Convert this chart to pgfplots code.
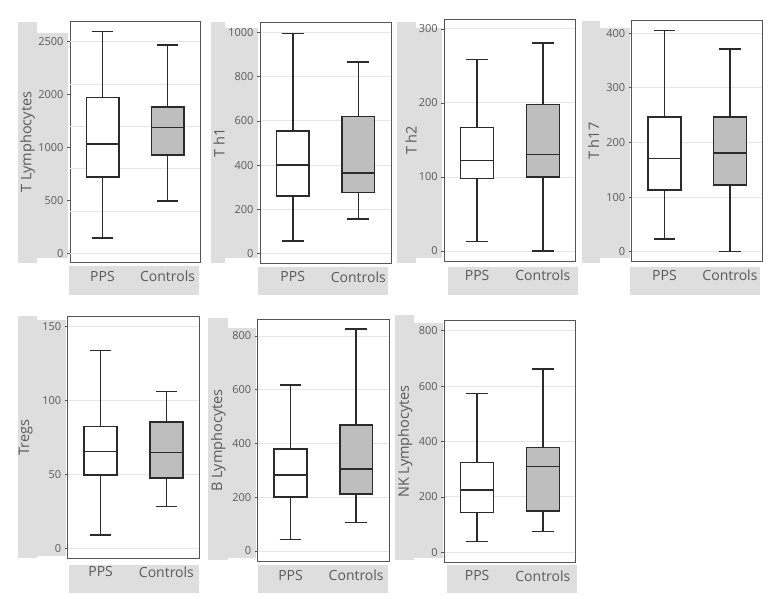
\documentclass[border=0pt]{standalone}
\usepackage{fontspec}
\setmainfont{Open Sans}
\usepackage{pgfplots}
\pgfplotsset{compat=1.18}
\usepgfplotslibrary{statistics}
\definecolor{strip}{HTML}{DEDEDE}
\definecolor{boxgrey}{HTML}{BEBEBE}
\definecolor{txt}{HTML}{5A5A5A}
\definecolor{gridc}{HTML}{E6E6E6}
\definecolor{framec}{HTML}{555555}
\definecolor{boxline}{HTML}{2B2B2B}
\pgfplotsset{
 panel/.style={
  scale only axis, anchor=north west,
  xmin=0.5, xmax=2.5, xtick={1,2}, xticklabels={PPS,Controls},
  x tick style={draw=none},
  ytick pos=left,
  ymajorgrids, grid style={draw=gridc, line width=0.9pt},
  axis line style={draw=framec, line width=0.8pt},
  y tick style={draw=framec, line width=0.8pt},
  tick align=outside, major tick length=3pt,
  /pgf/number format/assume math mode=true,
  /pgf/number format/set thousands separator={},
  yticklabel style={font=\fontsize{11}{12}\selectfont, text=txt},
  xticklabel style={font=\fontsize{14}{15}\selectfont, text=txt, yshift=-2pt},
  every axis y label/.style={rotate=90, anchor=center, font=\fontsize{14.5}{16}\selectfont, text=txt},
  boxplot/draw direction=y,
  boxplot/box extend=0.5,
  boxplot/whisker extend=0.33,
  boxplot/every box/.style={line width=1.5pt, draw=boxline},
  boxplot/every whisker/.style={line width=1.5pt, draw=boxline},
  boxplot/every median/.style={line width=1.5pt, draw=boxline},
 },
 ylab/.style={every axis y label/.append style={at={(axis description cs:#1,0.5)}}},
 pps/.style={draw=boxline, fill=white, line width=1.5pt, solid},
 ctl/.style={draw=boxline, fill=boxgrey, line width=1.5pt, solid},
}
\begin{document}
\begin{tikzpicture}
\path[use as bounding box] (0pt,0pt) rectangle (779pt,-599pt);
% grey strips
\fill[strip] (18pt,-21.7pt) rectangle (37pt,-262.7pt);
\fill[strip] (18pt,-33pt) rectangle (68pt,-258pt);
\fill[strip] (69pt,-266pt) rectangle (199pt,-295pt);
\fill[strip] (211pt,-21.7pt) rectangle (225pt,-263pt);
\fill[strip] (211pt,-28pt) rectangle (258pt,-258pt);
\fill[strip] (258pt,-267pt) rectangle (388pt,-295pt);
\fill[strip] (397pt,-22pt) rectangle (416pt,-263pt);
\fill[strip] (397pt,-28pt) rectangle (442pt,-258pt);
\fill[strip] (448pt,-267pt) rectangle (578pt,-295pt);
\fill[strip] (582pt,-20.7pt) rectangle (600pt,-263pt);
\fill[strip] (582pt,-28pt) rectangle (630pt,-258pt);
\fill[strip] (630pt,-267pt) rectangle (760pt,-295pt);
\fill[strip] (18pt,-316pt) rectangle (37pt,-558pt);
\fill[strip] (18pt,-320pt) rectangle (66pt,-556pt);
\fill[strip] (69pt,-565pt) rectangle (199pt,-593pt);
\fill[strip] (208pt,-318pt) rectangle (228pt,-560pt);
\fill[strip] (208pt,-328pt) rectangle (256pt,-558pt);
\fill[strip] (258pt,-565pt) rectangle (388pt,-593pt);
\fill[strip] (395pt,-315pt) rectangle (414pt,-560pt);
\fill[strip] (395pt,-323pt) rectangle (443pt,-558pt);
\fill[strip] (447pt,-565pt) rectangle (577pt,-593pt);

% Panel 1
\begin{axis}[panel, at={(70pt,-21.7pt)}, width=130pt, height=241pt,
  ymin=-111, ymax=2738,
  ytick={0,625,1250,1875,2500}, yticklabels={0,500,1000,2000,2500},
  ymajorgrids=false,
  extra y ticks={0,500,1000,1500,2000,2500}, extra y tick labels={},
  extra y tick style={grid=major, y tick style={draw=none}},
  ylabel={T Lymphocytes}, ylab=-0.327]
\addplot[pps, boxplot prepared={draw position=1, lower whisker=181, lower quartile=904, median=1291, upper quartile=1840, upper whisker=2622}] coordinates {};
\addplot[ctl, boxplot prepared={draw position=2, lower whisker=616, lower quartile=1161, median=1485, upper quartile=1730, upper whisker=2464}] coordinates {};
\end{axis}

% Panel 2
\begin{axis}[panel, at={(260pt,-22.7pt)}, width=131pt, height=240.6pt,
  ymin=-45, ymax=1045, ytick={0,200,400,600,800,1000},
  ylabel={T h1}, ylab=-0.313]
\addplot[pps, boxplot prepared={draw position=1, lower whisker=56, lower quartile=260, median=401, upper quartile=554, upper whisker=997}] coordinates {};
\addplot[ctl, boxplot prepared={draw position=2, lower whisker=155, lower quartile=276, median=365, upper quartile=619, upper whisker=867}] coordinates {};
\end{axis}

% Panel 3
\begin{axis}[panel, at={(444.3pt,-19.3pt)}, width=131.4pt, height=242.4pt,
  ymin=-14.5, ymax=313, ytick={0,100,200,300},
  ylabel={T h2}, ylab=-0.252]
\addplot[pps, boxplot prepared={draw position=1, lower whisker=13, lower quartile=98, median=122, upper quartile=167, upper whisker=259}] coordinates {};
\addplot[ctl, boxplot prepared={draw position=2, lower whisker=0, lower quartile=100, median=130, upper quartile=198, upper whisker=281}] coordinates {};
\end{axis}

% Panel 4
\begin{axis}[panel, at={(631.7pt,-20.7pt)}, width=131pt, height=241pt,
  ymin=-18.3, ymax=423, ytick={0,100,200,300,400},
  ylabel={T h17}, ylab=-0.29]
\addplot[pps, boxplot prepared={draw position=1, lower whisker=23, lower quartile=113, median=171, upper quartile=247, upper whisker=405}] coordinates {};
\addplot[ctl, boxplot prepared={draw position=2, lower whisker=0, lower quartile=122, median=181, upper quartile=247, upper whisker=371}] coordinates {};
\end{axis}

% Panel 5
\begin{axis}[panel, at={(67.7pt,-316.7pt)}, width=131.6pt, height=241.6pt,
  ymin=-6.8, ymax=156.7, ytick={0,50,100,150},
  ylabel={Tregs}, ylab=-0.32]
\addplot[pps, boxplot prepared={draw position=1, lower whisker=9, lower quartile=49.6, median=65.4, upper quartile=82.3, upper whisker=133.8}] coordinates {};
\addplot[ctl, boxplot prepared={draw position=2, lower whisker=28.2, lower quartile=47.4, median=64.7, upper quartile=85.3, upper whisker=106}] coordinates {};
\end{axis}

% Panel 6
\begin{axis}[panel, at={(257.7pt,-319.3pt)}, width=131.3pt, height=242.4pt,
  ymin=-40, ymax=862, ytick={0,200,400,600,800},
  ylabel={B Lymphocytes}, ylab=-0.30]
\addplot[pps, boxplot prepared={draw position=1, lower whisker=43, lower quartile=200, median=283, upper quartile=380, upper whisker=618}] coordinates {};
\addplot[ctl, boxplot prepared={draw position=2, lower whisker=105, lower quartile=212, median=305, upper quartile=469, upper whisker=825}] coordinates {};
\end{axis}

% Panel 7
\begin{axis}[panel, at={(444.3pt,-320.7pt)}, width=131.4pt, height=241.6pt,
  ymin=-36, ymax=836, ytick={0,200,400,600,800},
  ylabel={NK Lymphocytes}, ylab=-0.298]
\addplot[pps, boxplot prepared={draw position=1, lower whisker=38.5, lower quartile=143, median=225, upper quartile=324, upper whisker=574}] coordinates {};
\addplot[ctl, boxplot prepared={draw position=2, lower whisker=75, lower quartile=149, median=309, upper quartile=378, upper whisker=662}] coordinates {};
\end{axis}
\end{tikzpicture}
\end{document}
